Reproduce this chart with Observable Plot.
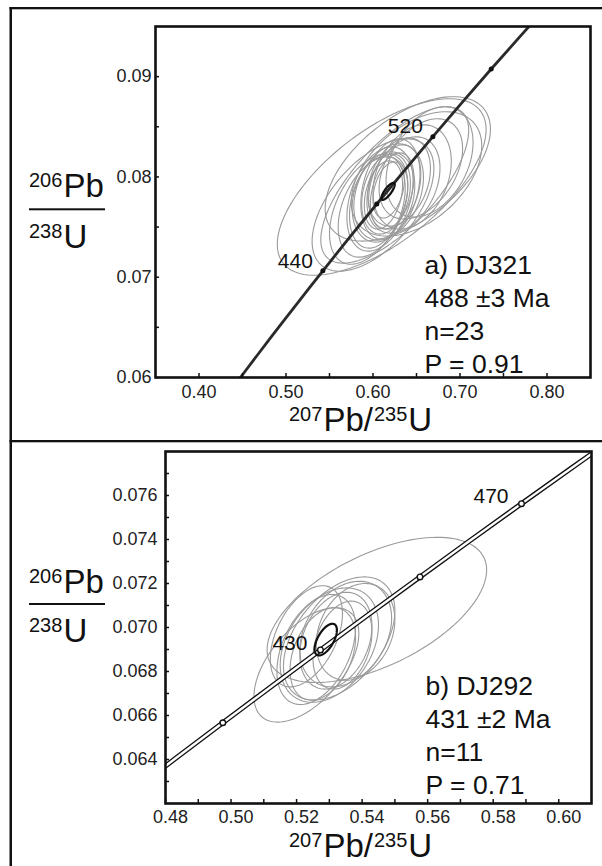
<!DOCTYPE html>
<html><head><meta charset="utf-8">
<script src="https://cdn.jsdelivr.net/npm/d3@7"></script>
<script src="https://cdn.jsdelivr.net/npm/@observablehq/plot@0.6"></script>
<style>
body{margin:0;background:#fff;}
#root{position:relative;width:602px;height:866px;overflow:hidden;background:#fff;}
.panel{position:absolute;left:0;}
#overlay{position:absolute;left:0;top:0;pointer-events:none;}
</style></head><body><div id="root"></div>
<script>
// ---- Concordia (age in Ma, 207Pb/235U, 206Pb/238U) ----
const concAge = [360, 380, 390, 400, 410, 420, 430, 440, 450, 460, 470, 480, 490, 500, 520, 540, 560, 580, 600];
const concX = [0.42553, 0.45389, 0.46828, 0.48281, 0.49749, 0.51231, 0.52728, 0.54239, 0.55766, 0.57307, 0.58864, 0.60437, 0.62024, 0.63628, 0.66883, 0.70203, 0.73588, 0.77041, 0.80563];
const concY = [0.05743, 0.06072, 0.06237, 0.06402, 0.06567, 0.06732, 0.06898, 0.07064, 0.07230, 0.07397, 0.07563, 0.07730, 0.07897, 0.08065, 0.08401, 0.08738, 0.09076, 0.09414, 0.09754];

// ---- Panel a) DJ321 ----
const aMarks = [440, 480, 520, 560];
const aLabels = [440, 520];
const aCX  = [0.610, 0.640, 0.625, 0.650, 0.600, 0.665, 0.655, 0.645, 0.635, 0.618, 0.612, 0.620, 0.608, 0.625, 0.615, 0.605, 0.622, 0.600, 0.630, 0.612, 0.618, 0.595, 0.617];
const aCY  = [0.0790, 0.0808, 0.0792, 0.0803, 0.0772, 0.0815, 0.0808, 0.0800, 0.0792, 0.0785, 0.0780, 0.0788, 0.0778, 0.0790, 0.0783, 0.0775, 0.0786, 0.0770, 0.0795, 0.0782, 0.0787, 0.0768, 0.0786];
const aSX  = [0.120, 0.095, 0.085, 0.075, 0.070, 0.050, 0.048, 0.045, 0.042, 0.040, 0.036, 0.034, 0.038, 0.030, 0.028, 0.032, 0.025, 0.040, 0.036, 0.022, 0.018, 0.045, 0.006];
const aSY  = [0.0088, 0.0072, 0.0078, 0.0062, 0.0066, 0.0055, 0.0050, 0.0052, 0.0048, 0.0048, 0.0045, 0.0050, 0.0052, 0.0042, 0.0040, 0.0046, 0.0038, 0.0050, 0.0044, 0.0034, 0.0028, 0.0055, 0.0007];
const aRho = [0.65, 0.55, 0.70, 0.45, 0.55, 0.35, 0.40, 0.30, 0.35, 0.30, 0.25, 0.30, 0.35, 0.30, 0.25, 0.30, 0.35, 0.40, 0.30, 0.30, 0.35, 0.45, 0.70];
const aMean = [0.6173, 0.07856, 0.0077, 0.00085, 0.80]; // cx, cy, sx, sy, rho
const aXTicks = [0.40, 0.50, 0.60, 0.70, 0.80];
const aXMinor = [0.45, 0.55, 0.65, 0.75];
const aYTicks = [0.06, 0.07, 0.08, 0.09];
const aYMinor = [0.065, 0.075, 0.085];
const aText = ["a) DJ321", "488 \u00b13 Ma", "n=23", "P = 0.91"];

// ---- Panel b) DJ292 ----
const bMarks = [410, 430, 450, 470];
const bLabels = [430, 470];
const bCX  = [0.5445, 0.5230, 0.5330, 0.5300, 0.5350, 0.5260, 0.5320, 0.5380, 0.5280, 0.5340, 0.5230];
const bCY  = [0.0708, 0.0683, 0.0695, 0.0692, 0.0697, 0.0690, 0.0694, 0.0698, 0.0688, 0.0692, 0.0696];
const bSX  = [0.0335, 0.0160, 0.0170, 0.0150, 0.0140, 0.0120, 0.0110, 0.0120, 0.0100, 0.0090, 0.0110];
const bSY  = [0.0033, 0.0026, 0.0028, 0.0026, 0.0024, 0.0025, 0.0022, 0.0022, 0.0021, 0.0020, 0.0023];
const bRho = [0.55, 0.55, 0.45, 0.35, 0.30, 0.40, 0.30, 0.25, 0.35, 0.30, 0.45];
const bMean = [0.5289, 0.06945, 0.0034, 0.00072, 0.60];
const bXTicks = [0.48, 0.50, 0.52, 0.54, 0.56, 0.58, 0.60];
const bXMinor = [0.49, 0.51, 0.53, 0.55, 0.57, 0.59];
const bYTicks = [0.064, 0.066, 0.068, 0.070, 0.072, 0.074, 0.076];
const bYMinor = [0.063, 0.065, 0.067, 0.069, 0.071, 0.073, 0.075, 0.077];
const bText = ["b) DJ292", "431 \u00b12 Ma", "n=11", "P = 0.71"];

// ---- helpers ----
function ellipse(id, cx, cy, sx, sy, r) {
  const pts = [], n = 120, k = Math.sqrt(1 - r * r);
  for (let i = 0; i <= n; i++) {
    const t = 2 * Math.PI * i / n;
    pts.push({id, x: cx + sx * Math.cos(t), y: cy + sy * (r * Math.cos(t) + k * Math.sin(t))});
  }
  return pts;
}
const conc = concAge.map((a, i) => ({age: a, x: concX[i], y: concY[i]}));
const at = a => conc.find(d => d.age === a);

function panel(cfg) {
  const ell = [];
  cfg.cx.forEach((c, i) => ell.push(...ellipse(i, c, cfg.cy[i], cfg.sx[i], cfg.sy[i], cfg.rho[i])));
  const mean = ellipse("m", ...cfg.mean);
  const pw = cfg.width - cfg.ml - cfg.mr, ph = cfg.height - cfg.mt - cfg.mb;
  const concMarks = cfg.double
    ? [Plot.line(conc, {x: "x", y: "y", stroke: "#111", strokeWidth: 5, clip: true}),
       Plot.line(conc, {x: "x", y: "y", stroke: "#fff", strokeWidth: 2.4, clip: true})]
    : [Plot.line(conc, {x: "x", y: "y", stroke: "#2a2a2a", strokeWidth: 2.8, clip: true})];
  const dots = cfg.double
    ? Plot.dot(cfg.marks.map(at), {x: "x", y: "y", r: 2.8, fill: "#fff", stroke: "#111", strokeWidth: 1.4})
    : Plot.dot(cfg.marks.map(at), {x: "x", y: "y", r: 2.5, fill: "#111"});
  return Plot.plot({
    width: cfg.width, height: cfg.height,
    marginLeft: cfg.ml, marginRight: cfg.mr, marginTop: cfg.mt, marginBottom: cfg.mb,
    x: {domain: cfg.xd, label: null},
    y: {domain: cfg.yd, label: null},
    style: {fontFamily: "'Liberation Sans', Arial, sans-serif", fontSize: "18px", color: "#111", background: "#fff"},
    marks: [
      Plot.line(ell, {x: "x", y: "y", z: "id", stroke: "#9a9a9a", strokeWidth: 1.1, clip: true}),
      ...concMarks,
      Plot.line(mean, {x: "x", y: "y", stroke: "#111", strokeWidth: 2.2}),
      dots,
      Plot.text(cfg.labels.map(at), {x: "x", y: "y", text: d => String(d.age), textAnchor: "end", dx: cfg.ldx, dy: cfg.ldy, fontSize: 21, fill: "#111"}),
      Plot.ruleX(cfg.xt.concat(cfg.xm), {x: d => d, insetTop: ph - 4, stroke: "#111", strokeWidth: 1.5}),
      Plot.ruleY(cfg.yt.concat(cfg.ym), {y: d => d, insetRight: pw - 4, stroke: "#111", strokeWidth: 1.5}),
      Plot.frame({stroke: "#111", strokeWidth: 2.6}),
      Plot.axisX({ticks: cfg.xt, tickSize: 0, tickPadding: cfg.xpad, tickFormat: d3.format(".2f"), label: null, dx: cfg.xdx, fill: "#222"}),
      Plot.axisY({ticks: cfg.yt, tickSize: 0, tickPadding: cfg.ypad, tickFormat: d3.format(cfg.yfmt), label: null, fill: "#222"}),
      Plot.text([cfg.text.join("\n")], {frameAnchor: "bottom-left", text: d => d, dx: cfg.tdx, dy: cfg.tdy, lineAnchor: "bottom", lineHeight: 1.245, fontSize: 26.5, textAnchor: "start", fill: "#111"})
    ]
  });
}

const root = document.getElementById("root");
const pa = panel({width: 602, height: 440, ml: 155, mr: 12, mt: 26, mb: 63, xd: [0.35, 0.85], yd: [0.06, 0.095],
  cx: aCX, cy: aCY, sx: aSX, sy: aSY, rho: aRho, mean: aMean, marks: aMarks, labels: aLabels, ldx: -10, ldy: -10,
  xt: aXTicks, xm: aXMinor, yt: aYTicks, ym: aYMinor, yfmt: ".2f", ypad: 4, xpad: 8, xdx: 0, text: aText, tdx: 269, tdy: -5, double: false});
pa.classList.add("panel"); pa.style.top = "0px";
root.appendChild(pa);
const pb = panel({width: 602, height: 425, ml: 165, mr: 11, mt: 10, mb: 63, xd: [0.48, 0.61], yd: [0.062, 0.078],
  cx: bCX, cy: bCY, sx: bSX, sy: bSY, rho: bRho, mean: bMean, marks: bMarks, labels: bLabels, ldx: -13, ldy: -7,
  xt: bXTicks, xm: bXMinor, yt: bYTicks, ym: bYMinor, yfmt: ".3f", ypad: 8, xpad: 7, xdx: 5, text: bText, tdx: 260, tdy: -10, double: true});
pb.classList.add("panel"); pb.style.top = "441px";
root.appendChild(pb);

// ---- overlay: axis titles with superscripts and figure borders ----
const NS = "http://www.w3.org/2000/svg";
const ov = document.createElementNS(NS, "svg");
ov.setAttribute("id", "overlay"); ov.setAttribute("width", 602); ov.setAttribute("height", 866);
ov.setAttribute("font-family", "'Liberation Sans', Arial, sans-serif");
ov.setAttribute("fill", "#111");
function rect(x, y, w, h) { const r = document.createElementNS(NS, "rect"); r.setAttribute("x", x); r.setAttribute("y", y); r.setAttribute("width", w); r.setAttribute("height", h); r.setAttribute("fill", "#111"); ov.appendChild(r); }
function title(x, y, parts) {
  const t = document.createElementNS(NS, "text");
  t.setAttribute("x", x); t.setAttribute("y", y); t.setAttribute("font-size", 33);
  let up = false;
  parts.forEach(([s, sup]) => {
    const sp = document.createElementNS(NS, "tspan");
    if (sup) { sp.setAttribute("font-size", 20); if (!up) sp.setAttribute("dy", -10); up = true; }
    else { if (up) sp.setAttribute("dy", 10); up = false; }
    sp.setAttribute("dx", 1);
    sp.textContent = s; t.appendChild(sp);
  });
  ov.appendChild(t);
}
// borders
rect(9.5, 7, 2.5, 859);
rect(9.5, 7, 592.5, 2.3);
rect(9.5, 440, 592.5, 2.3);
// x titles
title(288, 431, [["207", true], ["Pb/", false], ["235", true], ["U", false]]);
title(288, 857, [["207", true], ["Pb/", false], ["235", true], ["U", false]]);
// y titles (fraction)
title(28, 197, [["206", true], ["Pb", false]]);
rect(29, 208.3, 76, 2);
title(28, 248, [["238", true], ["U", false]]);
title(28, 593, [["206", true], ["Pb", false]]);
rect(29, 603, 76, 2);
title(28, 642, [["238", true], ["U", false]]);
root.appendChild(ov);
</script></body></html>
